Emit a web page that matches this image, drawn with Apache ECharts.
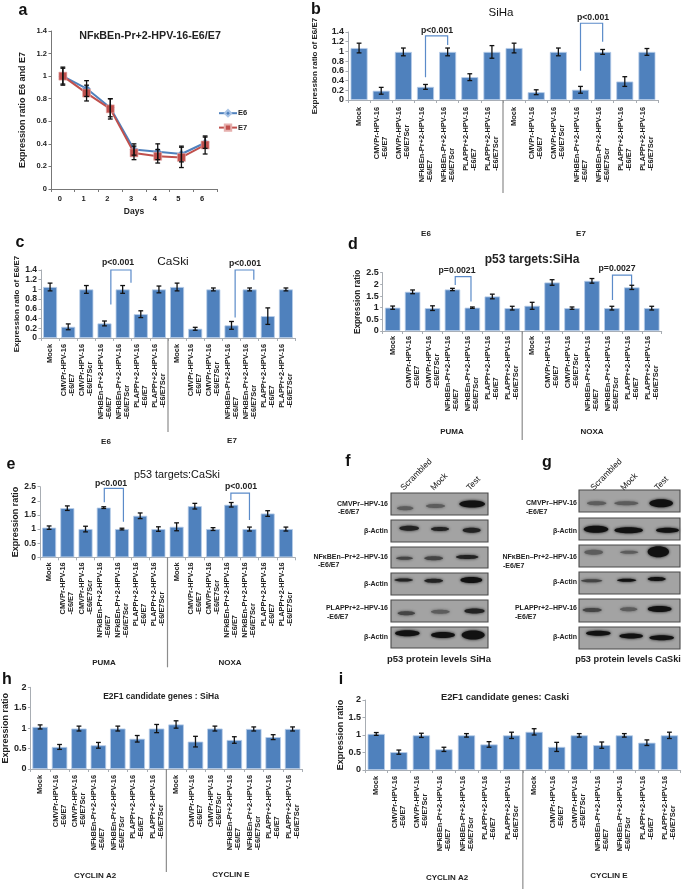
<!DOCTYPE html>
<html><head><meta charset="utf-8">
<style>html,body{margin:0;padding:0;background:#fff}#c{width:682px;height:889px}</style>
<script src="https://cdn.jsdelivr.net/npm/echarts@6/dist/echarts.min.js"></script>
</head><body><div id="c"></div>
<script>
// ---------- data ----------
const days = ['0','1','2','3','4','5','6'];
const e6Line = [1,.89,.72,.35,.33,.31,.41];
const e7Line = [1,.85,.71,.32,.29,.28,.39];
const e6LineErr = [.07,.07,.08,.05,.07,.07,.05];
const e7LineErr = [.08,.07,.09,.06,.06,.09,.08];

const constructs = ['CMVPr-HPV-16\n-E6/E7','CMVPr-HPV-16\n-E6/E7Scr','NFkBEn-Pr+2-HPV-16\n-E6/E7','NFkBEn-Pr+2-HPV-16\n-E6/E7Scr','PLAPPr+2-HPV-16\n-E6/E7','PLAPPr+2-HPV-16\n-E6/E7Scr'];
const categories = ['Mock',...constructs,'Mock',...constructs];

const bValues = [1.07,.19,.99,.27,.99,.47,.99,1.07,.16,.99,.21,.99,.38,.99];
const bErrors = [.1,.07,.08,.05,.08,.07,.13,.1,.05,.08,.07,.05,.1,.07];
const cValues = [1.05,.23,1,.3,1,.49,1,1.05,.19,1,.26,1,.45,1];
const cErrors = [.08,.06,.08,.05,.08,.07,.07,.08,.03,.03,.08,.03,.17,.03];
const dValues = [1,1.68,.98,1.78,1,1.48,.98,1.08,2.08,.98,2.15,.98,1.87,.98];
const dErrors = [.07,.08,.1,.05,.03,.1,.08,.15,.12,.05,.1,.08,.09,.08];
const eValues = [1.05,1.74,1,1.76,1,1.47,1,1.08,1.81,1,1.86,1,1.55,1];
const eErrors = [.06,.08,.1,.03,.03,.1,.08,.14,.1,.05,.08,.07,.1,.07];
const hValues = [1.03,.54,.99,.58,.99,.74,.99,1.09,.67,.99,.71,.98,.78,.98];
const hErrors = [.05,.06,.06,.07,.06,.08,.1,.09,.13,.06,.08,.05,.06,.05];
const iValues = [1.03,.51,.99,.59,.99,.73,.99,1.09,.66,.99,.71,.99,.78,.99];
const iErrors = [.04,.06,.06,.06,.05,.08,.09,.09,.13,.05,.09,.05,.08,.09];

// brackets: [from category position, to category position, left foot value, top value, right foot value]
const bBrackets = [[3,4,.47,1.32,1.13],[10,11,.6,1.58,1.2]];
const cBrackets = [[3.35,4.46,.69,1.4,1.14],[10.2,11.23,.42,1.4,1.2]];
const dBrackets = [[3.14,3.93,1.97,2.33,1.26],[11.03,11.99,1.33,2.4,1.97]];
const eBrackets = [[3.03,4.08,1.95,2.44,1.26],[9.98,11,2.03,2.27,1.32]];

// ---------- layout ----------
const FONT = '"Liberation Sans",Arial,sans-serif';
const BLUE='#4f81bd', RED='#c0504d', BRACKET='#5b8bc9', AXIS='#a8adb3';
const panels = [
 {id:'b',l:348,r:658,t:32,b:100,max:1.4,step:.2,vals:bValues,errs:bErrors,br:bBrackets,bar:17,sep:93,name:'Expression ratio of E6/E7',gap:29,ns:8,ts:8.9,m:7},
 {id:'c',l:41,r:295,t:270,b:338,max:1.4,step:.2,vals:cValues,errs:cErrors,br:cBrackets,bar:14,sep:94,name:'Expression ratio of E6/E7',gap:19,ns:8,ts:8.5,m:6},
 {id:'d',l:382.7,r:661.7,t:272.7,b:331,max:2.5,step:.5,vals:dValues,errs:dErrors,br:dBrackets,bar:15.5,sep:109,name:'Expression ratio',gap:20.5,ns:8.2,ts:9,m:5},
 {id:'e',l:40,r:295,t:486.7,b:557.3,max:2.5,step:.5,vals:eValues,errs:eErrors,br:eBrackets,bar:14,sep:110,name:'Expression ratio',gap:17.5,ns:9,ts:8.5,m:5},
 {id:'h',l:29.3,r:302.3,t:687.3,b:769,max:2,step:.5,vals:hValues,errs:hErrors,br:[],bar:15.5,sep:103,name:'Expression ratio',gap:19.5,ns:9,ts:9,m:6},
 {id:'i',l:365,r:680.7,t:700,b:770,max:2,step:.5,vals:iValues,errs:iErrors,br:[],bar:17.3,sep:119,name:'Expression ratio',gap:17.5,ns:9,ts:9,m:6}
];

const grid=[],xAxis=[],yAxis=[],series=[];
const axisLine={lineStyle:{color:AXIS,width:1}};
const yNum=v=>String(+v.toFixed(1));

function errSeries(g,rows){
  return {type:'custom',xAxisIndex:g,yAxisIndex:g,z:6,silent:true,data:rows,
    encode:{x:0,y:[1,2]},
    renderItem(p,api){
      const x=api.value(0),v=api.value(1),e=api.value(2);
      const a=api.coord([x,v+e]),b=api.coord([x,v-e]);
      const cap=2.4,st={stroke:'#111',lineWidth:1.3};
      return {type:'group',children:[
        {type:'line',shape:{x1:a[0],y1:a[1],x2:b[0],y2:b[1]},style:st},
        {type:'line',shape:{x1:a[0]-cap,y1:a[1],x2:a[0]+cap,y2:a[1]},style:st},
        {type:'line',shape:{x1:b[0]-cap,y1:b[1],x2:b[0]+cap,y2:b[1]},style:st}]};
    }};
}

panels.forEach(p=>{
  const g=grid.length;
  grid.push({left:p.l,top:p.t,width:p.r-p.l,height:p.b-p.t,containLabel:false});
  xAxis.push({type:'category',gridIndex:g,data:categories,boundaryGap:true,
    axisLine,axisTick:{show:true,alignWithLabel:false,length:3,lineStyle:{color:AXIS}},
    axisLabel:{interval:0,rotate:90,margin:p.m,fontFamily:FONT,fontSize:7.4,fontWeight:'bold',color:'#222',lineHeight:8,
      formatter:s=>s.split('\n').map(t=>'{a|'+t+'}').join('\n'),
      rich:{a:{align:'left',fontFamily:FONT,fontSize:7.4,fontWeight:'bold',color:'#222',lineHeight:8}}}});
  yAxis.push({type:'value',gridIndex:g,min:0,max:p.max,interval:p.step,splitLine:{show:false},
    axisLine:{show:true,lineStyle:{color:AXIS}},axisTick:{show:true,length:2.5,lineStyle:{color:AXIS}},
    axisLabel:{margin:4,showMinLabel:true,showMaxLabel:true,hideOverlap:false,fontFamily:FONT,fontSize:p.ts,fontWeight:'bold',color:'#222',lineHeight:p.ts-2,formatter:yNum},
    name:p.name,nameLocation:'middle',nameGap:p.gap,
    nameTextStyle:{fontFamily:FONT,fontSize:p.ns,fontWeight:'bold',color:'#222'}});
  series.push({type:'bar',xAxisIndex:g,yAxisIndex:g,data:p.vals,barWidth:p.bar,silent:true,
    itemStyle:{color:BLUE,borderColor:'#b7cde9',borderWidth:.8}});
  series.push(errSeries(g,p.vals.map((v,i)=>[i,v,p.errs[i]])));
  if(p.br.length) series.push({type:'custom',xAxisIndex:g,yAxisIndex:g,z:5,silent:true,data:p.br,
    encode:{x:[0,1],y:[2,3,4]},
    renderItem(_,api){
      const x0=api.coord([0,0])[0],w=api.coord([1,0])[0]-x0;
      const X=k=>x0+w*k,Y=v=>api.coord([0,v])[1];
      return {type:'polyline',shape:{points:[
        [X(api.value(0)),Y(api.value(2))],[X(api.value(0)),Y(api.value(3))],
        [X(api.value(1)),Y(api.value(3))],[X(api.value(1)),Y(api.value(4))]]},
        style:{stroke:BRACKET,lineWidth:1.2,fill:'none'}};
    }});
  series.push({type:'custom',xAxisIndex:g,yAxisIndex:g,z:4,silent:true,data:[[6.5]],
    encode:{x:0},
    renderItem(_,api){
      const x0=api.coord([0,0])[0],w=api.coord([1,0])[0]-x0,x=x0+w*6.5,y=api.coord([0,0])[1];
      return {type:'line',shape:{x1:x,y1:y,x2:x,y2:y+p.sep},style:{stroke:'#8c8c8c',lineWidth:1.2}};
    }});
});

// panel a
{
  const g=grid.length;
  grid.push({left:51,top:31,width:166,height:158,containLabel:false});
  xAxis.push({type:'category',gridIndex:g,data:days,boundaryGap:true,axisLine:{lineStyle:{color:'#777'}},
    axisTick:{show:true,length:3,lineStyle:{color:'#777'}},
    axisLabel:{interval:0,margin:6,padding:[0,6,0,0],fontFamily:FONT,fontSize:7.5,fontWeight:'bold',color:'#222'},
    name:'Days',nameLocation:'middle',nameGap:18,nameTextStyle:{fontFamily:FONT,fontSize:8.5,fontWeight:'bold',color:'#222'}});
  yAxis.push({type:'value',gridIndex:g,min:0,max:1.4,interval:.2,splitLine:{show:false},
    axisLine:{show:true,lineStyle:{color:'#777'}},axisTick:{show:true,length:2.5,lineStyle:{color:'#777'}},
    axisLabel:{margin:4,fontFamily:FONT,fontSize:7.5,fontWeight:'bold',color:'#222',formatter:yNum},
    name:'Expression ratio E6 and E7',nameLocation:'middle',nameGap:23.5,
    nameTextStyle:{fontFamily:FONT,fontSize:9,fontWeight:'bold',color:'#222'}});
  series.push({name:'E6',type:'line',xAxisIndex:g,yAxisIndex:g,data:e6Line,symbol:'diamond',symbolSize:8,z:3,
    lineStyle:{color:BLUE,width:2},itemStyle:{color:BLUE,borderColor:'#a9c4e6',borderWidth:.6}});
  series.push({name:'E7',type:'line',xAxisIndex:g,yAxisIndex:g,data:e7Line,symbol:'rect',symbolSize:8,z:4,
    lineStyle:{color:RED,width:2},itemStyle:{color:RED,borderColor:'#e6b0ae',borderWidth:.6}});
  series.push(errSeries(g,e6Line.map((v,i)=>[i,v,e6LineErr[i]])));
  series.push(errSeries(g,e7Line.map((v,i)=>[i,v,e7LineErr[i]])));
}

// ---------- text and blots ----------
const gfx=[];
function T(text,x,y,size,opt={}){
  gfx.push({type:'text',x,y,rotation:opt.rot||0,z:20,silent:true,style:{text,fontFamily:FONT,fontSize:size,fontWeight:opt.w||'bold',
    fill:opt.c||'#222',align:opt.a||'center',verticalAlign:'middle'}});
}
[['a',23,11],['b',316,10],['c',20,243],['d',353,245],['e',11,465],['f',348,462],['g',547,463],['h',7,680],['i',341,680]]
  .forEach(([s,x,y])=>T(s,x,y,16,{c:'#111'}));
T('NFκBEn-Pr+2-HPV-16-E6/E7',150,36,10.7);
T('SiHa',501,13,11.5,{w:'normal',c:'#111'});
T('CaSki',173,262,11.8,{w:'normal',c:'#111'});
T('p53 targets:SiHa',532,260,12);
T('p53 targets:CaSki',177,475,10.8,{w:'normal',c:'#111'});
T('E2F1 candidate genes : SiHa',161,697,8.5);
T('E2F1 candidate genes: Caski',505,697,9.3);
[['p<0.001',437,31],['p<0.001',593,18],['p<0.001',118,263],['p<0.001',245,264],['p=0.0021',457,271],['p=0.0027',617,269],['p<0.001',111,484],['p<0.001',241,487]]
  .forEach(([s,x,y])=>T(s,x,y,8.7));
[['E6',426,234],['E7',581,234],['E6',106,442],['E7',232,441],['PUMA',452,432],['NOXA',592,432],['PUMA',104,663],['NOXA',230,663],
 ['CYCLIN A2',95,876],['CYCLIN E',231,875],['CYCLIN A2',447,878],['CYCLIN E',609,876]]
  .forEach(([s,x,y])=>T(s,x,y,8));

const blots=[
 {x0:391,x1:488,rows:[[493,515],[520,542],[547,568],[573,595],[600,622],[627,648]],
  bands:[[[228,283,115,4,.6],[315,378,108,4,.6],[415,498,102,7,1]],[[235,300,175,5,.9],[330,390,177,4,.9],[425,485,181,5,.9]],
   [[225,282,265,3,.7],[310,372,265,4,.7],[405,478,261,4,.9]],[[220,282,330,3,.9],[310,372,332,4,.9],[418,490,330,6,1]],
   [[230,288,430,4,.7],[330,392,425,4,.6],[430,497,423,5,.9]],[[222,302,490,6,1],[330,408,495,6,1],[422,497,495,9,1]]]},
 {x0:579,x1:680,rows:[[490,512],[518,540],[545,567],[572,594],[599,622],[627,649]],
  bands:[[[798,862,100,4,.5],[880,958,100,4,.5],[985,1062,100,8,1]],[[788,868,178,7,1],[880,972,181,6,1],[1005,1080,181,5,1]],
   [[790,852,247,5,.6],[897,958,247,3,.5],[980,1050,245,11,1]],[[780,850,332,3,.8],[888,952,331,3,1],[980,1040,327,4,1]],
   [[785,848,420,4,.8],[897,955,418,4,.5],[980,1058,417,6,1]],[[795,875,490,5,1],[895,972,498,5,1],[985,1065,503,5,1]]]}
];
blots.forEach(b=>{
  b.rows.forEach(([t,bt],r)=>{
    gfx.push({type:'rect',z:10,silent:true,shape:{x:b.x0,y:t,width:b.x1-b.x0,height:bt-t},style:{fill:'#a3a3a3',stroke:'#4a4a4a',lineWidth:1.1}});
    b.bands[r].forEach(([z0,z1,zy,h,d])=>{
      const x=z0/3+320,w=(z1-z0)/3,y=zy/3+470,col=d>=1?'#111':d>=.9?'#222':d>=.7?'#444':'#5c5c5c';
      gfx.push({type:'ellipse',z:11,silent:true,shape:{cx:x+w/2,cy:y,rx:w/2-1,ry:h/2},style:{fill:col,shadowBlur:3,shadowColor:col}});
    });
  });
});
[[388,[['CMVPr–HPV-16','-E6/E7',338,504,512],['NFκBEn–Pr+2–HPV-16','-E6/E7',318,557,565],['PLAPPr+2–HPV-16','-E6/E7',327,608,617]],[531,584,637]],
 [577,[['CMVPr–HPV-16','-E6/E7',526,503,512],['NFκBEn–Pr+2–HPV-16','-E6/E7',503,557,566],['PLAPPr+2–HPV-16','-E6/E7',515,608,617]],[531,582,637]]]
 .forEach(([right,rows,act])=>{
   rows.forEach(([a,b,l,y1,y2])=>{T(a,right,y1,7,{a:'right'});T(b,l,y2,7,{a:'left'});});
   act.forEach(y=>T('β-Actin',right,y,7,{a:'right'}));
 });
[[402,432,468],[592,622,656]].forEach(xs=>{
  ['Scrambled','Mock','Test'].forEach((s,i)=>T(s,xs[i],489,8.5,{a:'left',rot:Math.PI/4,w:'normal',c:'#111'}));
});
T('p53 protein levels SiHa',439,659,9.5);
T('p53 protein levels CaSki',628,659,9.2);

const chart=echarts.init(document.getElementById('c'),null,{renderer:'canvas'});
chart.setOption({animation:false,backgroundColor:'#fff',grid,xAxis,yAxis,series,graphic:gfx,
  legend:{data:['E6','E7'],orient:'vertical',left:218,top:109,itemWidth:18,itemHeight:8,itemGap:6,padding:0,
    textStyle:{fontFamily:FONT,fontSize:7.5,fontWeight:'bold',color:'#222',padding:[0,0,0,-4]}}});
</script></body></html>
